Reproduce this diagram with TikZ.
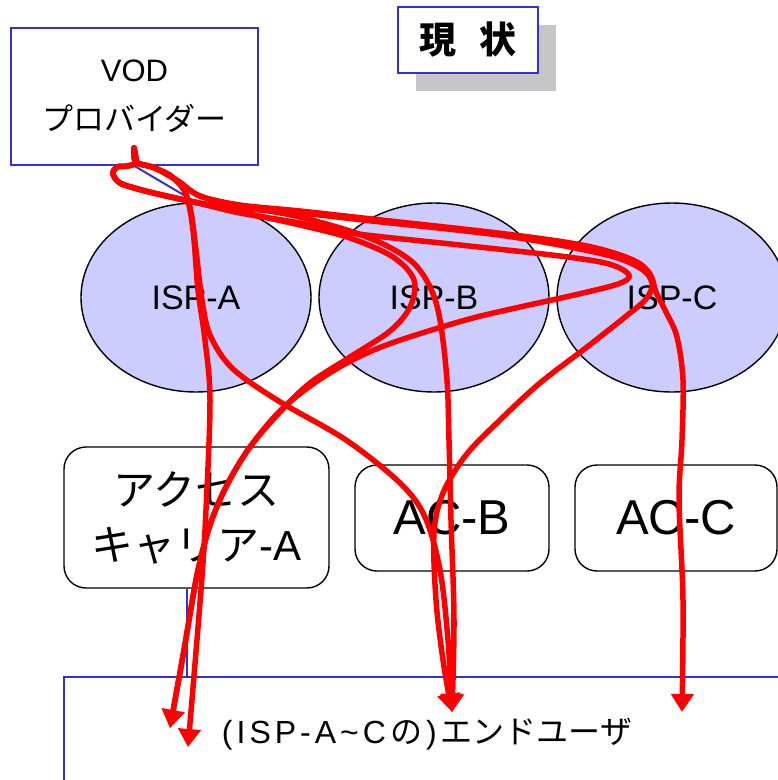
\documentclass[tikz,border=0pt]{standalone}
\usepackage{fontspec}
\setmainfont{Liberation Sans}
\newfontfamily\jp{Noto Sans CJK JP}
\usetikzlibrary{arrows.meta,shapes.geometric,positioning}

\definecolor{boxblue}{RGB}{51,51,204}
\definecolor{ispfill}{RGB}{204,204,255}
\definecolor{flowred}{RGB}{255,0,0}
\newcommand\lgap{\hspace{4pt}}

\begin{document}
\begin{tikzpicture}[x=1pt, y=-1pt, every node/.style={inner sep=0pt},
  isp/.style={ellipse, draw=black, line width=1.4pt, fill=ispfill,
    minimum width=230pt, minimum height=189pt, font=\fontsize{34}{40}\selectfont},
  carrier/.style={rectangle, rounded corners=22pt, draw=black, line width=1.4pt, fill=white},
  bluebox/.style={rectangle, draw=boxblue, line width=2pt, fill=white},
  link/.style={draw=boxblue, line width=2pt},
  flow/.style={draw=flowred, line width=5.5pt, line cap=round, line join=round,
    -{Triangle[width=22pt,length=18pt]}}]
  % Page frame
  \clip (0,0) rectangle (778,780);
  \fill[white] (0,0) rectangle (778,780);

  % Title with shadow
  \fill[gray!45] (416,25) rectangle (556,91);
  \node[bluebox, minimum width=140pt, minimum height=66pt,
    font=\jp\bfseries\fontsize{37}{37}\selectfont] (title) at (468,40) {現\hspace{23pt}状};

  % VOD provider
  \node[bluebox, minimum width=247pt, minimum height=137pt, align=center,
    font=\fontsize{31}{49}\selectfont] (vod) at (134.5,96.5) {VOD\\{\jp プロバイダー}};

  % ISPs
  \foreach \name/\x in {A/196,B/434,C/672}
    \node[isp] (isp\name) at (\x,297.5) {ISP-\name};

  % Access carriers
  \node[carrier, minimum width=265pt, minimum height=141pt, align=center,
    font=\fontsize{42}{55}\selectfont] (carA) at (196.5,517.5) {{\jp アクセス}\\{\jp キャリア}-A};
  \node[carrier, minimum width=194pt, minimum height=106pt,
    font=\fontsize{49}{49}\selectfont] (acB) at (452,518) {AC-B};
  \node[carrier, minimum width=202pt, minimum height=106pt,
    font=\fontsize{49}{49}\selectfont] (acC) at (676,518) {AC-C};

  % End users
  \node[bluebox, fill=none, minimum width=726pt, minimum height=114pt,
    font=\fontsize{32}{32}\selectfont] (users) at (427,734)
    {(\lgap I\lgap S\lgap P\lgap -\lgap A\lgap\textasciitilde\lgap C\lgap{\jp の}\lgap)\lgap{\jp エンドユーザ}};

  % Blue links
  \draw[link] (vod.south) -- (ispA.north);
  \draw[link] (carA.south) ++(-9.5,0) coordinate (carAout) -- (carAout |- users.north);
  \draw[link] (acB.south) -- (acB.south |- users.north);
  \draw[link] (acC.south) ++(6,0) coordinate (acCout) -- (acCout |- users.north);

  % Flow ends
  \coordinate (vodout) at (134,148);
  \coordinate (tipA1) at (170,728);
  \coordinate (tipA2) at (188,747);
  \coordinate (tipB) at (452,712);
  \coordinate (tipC) at (682,712);

  % Flows via ISP-A
  \draw[flow] plot[smooth, tension=0.55] coordinates {(vodout) (136,162) (152,167) (171,176)
    (184,190) (190,210) (194,240) (198,290) (205,340) (210,400) (206,510) (201,590) (tipA2)};
  \draw[flow] plot[smooth, tension=0.55] coordinates {(vodout) (136,162) (152,167) (171,176)
    (184,190) (191,212) (196,250) (202,300) (210,335) (232,368) (277,400) (346,440) (400,483)
    (425,517) (440,570) (448,640) (tipB)};
  % Flows via ISP-B
  \draw[flow] plot[smooth, tension=0.55] coordinates {(vodout) (136,162) (128,166) (117,167)
    (113,174) (120,183) (138,189) (162,195) (194,202) (240,212) (300,225) (350,238) (393,257)
    (414,280) (410,307) (390,331) (350,357) (310,383) (280,412) (250,447) (227,485) (210,525)
    (197,575) (184,650) (tipA1)};
  \draw[flow] plot[smooth, tension=0.55] coordinates {(vodout) (136,162) (155,168) (178,181)
    (200,196) (240,206) (300,217) (367,237) (410,260) (430,287) (440,320) (447,380) (449,440)
    (451,520) (454,620) (tipB)};
  % Flows via ISP-C
  \draw[flow] plot[smooth, tension=0.55] coordinates {(vodout) (136,162) (128,166) (117,167)
    (113,174) (120,183) (138,189) (162,195) (194,202) (240,213) (300,223) (350,233) (460,245)
    (560,256) (609,264) (629,275) (618,284) (570,296) (520,307) (462,321) (381,347) (328,374)
    (283,408) (250,447) (227,485) (210,525) (197,575) (184,650) (tipA1)};
  \draw[flow] plot[smooth, tension=0.55] coordinates {(vodout) (136,162) (128,166) (117,167)
    (113,174) (120,183) (138,189) (162,195) (194,202) (235,208) (300,213) (372,221) (506,236)
    (603,254) (640,268) (652,283) (646,299) (625,317) (587,347) (540,383) (500,420) (466,455)
    (443,493) (434,533) (436,600) (443,660) (tipB)};
  \draw[flow] plot[smooth, tension=0.55] coordinates {(vodout) (136,162) (155,168) (178,181)
    (200,196) (240,205) (300,211) (372,219) (506,234) (587,246) (633,260) (650,274) (656,292)
    (666,312) (677,337) (683,380) (682,440) (679,500) (683,600) (tipC)};
\end{tikzpicture}
\end{document}
